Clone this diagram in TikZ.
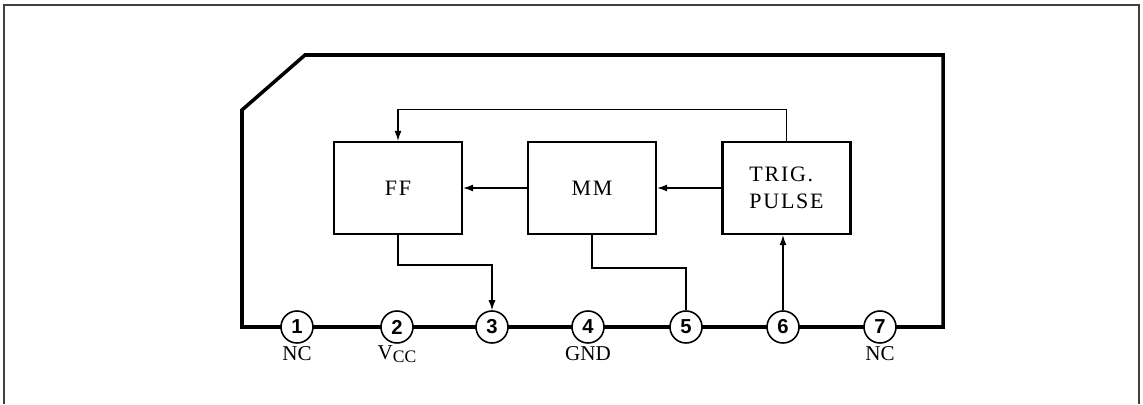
\documentclass[tikz,border=0pt]{standalone}
\usepackage{fontspec}
\setmainfont{Liberation Serif}
\newfontfamily\pinfont{Liberation Sans}
\usetikzlibrary{arrows.meta}

\tikzset{
  bloc/.style={draw, line width=1.3pt, minimum width=2.56cm, minimum height=1.84cm,
               align=left, font=\fontsize{12.5}{15}\selectfont\addfontfeature{LetterSpace=8}},
  borne/.style={draw, circle, line width=0.9pt, fill=white, minimum size=0.64cm,
                inner sep=0pt, font=\pinfont\bfseries\fontsize{11.5}{12}\selectfont},
  etiq/.style={font=\fontsize{12}{13}\selectfont},
  fil/.style={line width=0.7pt},
  fleche/.style={fil, -{Latex[length=2mm,width=1.4mm]}},
}

\begin{document}
\begin{tikzpicture}
\useasboundingbox (0,0) rectangle (22.86,8.08);
% cadre de la figure
\draw[black!75, line width=0.6pt] (0.08,0) -- (0.08,7.98) -- (22.78,7.98) -- (22.78,0);
% boitier
\draw[line width=2pt] (4.84,1.54) -- (4.84,5.88) -- (6.10,6.98) -- (18.86,6.98)
      -- (18.86,1.54) -- cycle;
% broches
\foreach \n/\x in {1/5.94,2/7.94,3/9.84,4/11.76,5/13.72,6/15.66,7/17.6}
  \node[borne] (p\n) at (\x,1.54) {\n};
\node[etiq] (nc1) at (5.94,1.0) {NC};
\node[etiq] (vcc) at (7.94,1.0) {V\raisebox{-0.3ex}{\fontsize{10}{11}\selectfont CC}};
\node[etiq] (gnd) at (11.76,1.0) {GND};
\node[etiq] (nc7) at (17.6,1.0) {NC};

% blocs
\node[bloc] (ff) at (7.96,4.32) {FF};
\node[bloc] (mm) at (11.84,4.32) {MM};
\node[bloc] (trig) at (15.73,4.32) {TRIG.\\PULSE};

% liaisons
\draw[fleche] (mm) -- (ff);
\draw[fleche] (trig) -- (mm);
\draw[fleche] (trig.north) -- ++(0,0.62) -| (ff.north);
\draw[fleche] (ff.south) -- (ff.south |- 0,2.78) -| (p3.north);
\draw[fil] (mm.south) -- (mm.south |- 0,2.72) -| (p5.north);
\draw[fleche] (p6.north) -- (p6 |- trig.south);
\end{tikzpicture}
\end{document}
